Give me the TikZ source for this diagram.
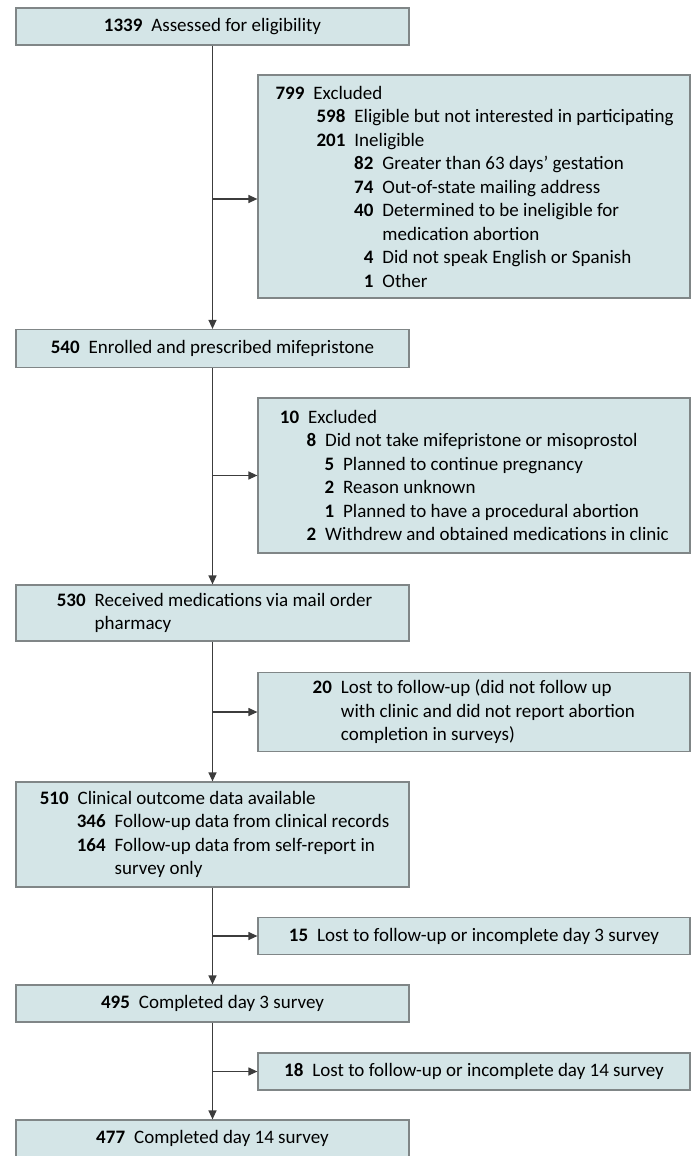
\documentclass[tikz,border=0pt]{standalone}
\usepackage{fontspec}
\setmainfont{Carlito}
\usetikzlibrary{arrows.meta}
\definecolor{boxfill}{RGB}{212,229,231}
\definecolor{boxline}{RGB}{128,134,135}
\definecolor{flowline}{RGB}{60,60,60}
\newcommand\cnt[2]{\makebox[#1][r]{\bfseries #2}\hspace{4.5pt}}
\newcommand\gap[1]{\hspace*{#1}\hspace*{4.5pt}}
\newcommand\lead[1]{\textbf{#1}\hspace{4.5pt}}

\begin{document}
\begin{tikzpicture}[x=0.5pt,y=-0.5pt,
	Box/.style={draw=boxline, fill=boxfill, line width=0.6pt, inner sep=0pt, align=left,
		font=\fontsize{9.5}{11.75}\selectfont},
	Main/.style={Box, minimum width=196.5pt},
	Side/.style={Box, minimum width=216pt},
	Flow/.style={draw=flowline, line width=0.6pt, -{Triangle[length=4.5pt,width=4pt]}}
		]
	\useasboundingbox (0,0) rectangle (692,1156);

	\node[Main, minimum height=18.5pt] (assessed) at (212.5,26.5) {\lead{1339}Assessed for eligibility};
	\node[Side, minimum height=111.5pt] (excl1) at (474,186.5) {%
		\cnt{15pt}{799}Excluded\\
		\cnt{35.5pt}{598}Eligible but not interested in participating\\
		\cnt{35.5pt}{201}Ineligible\\
		\cnt{49.5pt}{82}Greater than 63 days' gestation\\
		\cnt{49.5pt}{74}Out-of-state mailing address\\
		\cnt{49.5pt}{40}Determined to be ineligible for\\
		\gap{49.5pt}medication abortion\\
		\cnt{49.5pt}{4}Did not speak English or Spanish\\
		\cnt{49.5pt}{1}Other};
	\node[Main, minimum height=19pt] (enrolled) at (212.5,348.5) {\lead{540}Enrolled and prescribed mifepristone};
	\node[Side, minimum height=77.5pt] (excl2) at (474,475.5) {%
		\cnt{10pt}{10}Excluded\\
		\cnt{18.5pt}{8}Did not take mifepristone or misoprostol\\
		\cnt{27.5pt}{5}Planned to continue pregnancy\\
		\cnt{27.5pt}{2}Reason unknown\\
		\cnt{27.5pt}{1}Planned to have a procedural abortion\\
		\cnt{18.5pt}{2}Withdrew and obtained medications in clinic};
	\node[Main, minimum height=28pt] (mailed) at (212.5,613) {%
		\cnt{16.5pt}{530}Received medications via mail order\\
		\gap{16.5pt}pharmacy};
	\node[Side, minimum height=39.5pt] (lost1) at (474,712) {%
		\cnt{9.5pt}{20}Lost to follow-up (did not follow up\\
		\gap{9.5pt}with clinic and did not report abortion\\
		\gap{9.5pt}completion in surveys)};
	\node[Main, minimum height=52.5pt] (outcome) at (212.5,834.5) {%
		\cnt{16.5pt}{510}Clinical outcome data available\\
		\cnt{35pt}{346}Follow-up data from clinical records\\
		\cnt{35pt}{164}Follow-up data from self-report in\\
		\gap{35pt}survey only};
	\node[Side, minimum height=18.5pt] (lost2) at (474,936) {\lead{15}Lost to follow-up or incomplete day 3 survey};
	\node[Main, minimum height=18.5pt] (day3) at (212.5,1003.5) {\lead{495}Completed day 3 survey};
	\node[Side, minimum height=18.5pt] (lost3) at (474,1071.5) {\lead{18}Lost to follow-up or incomplete day 14 survey};
	\node[Main, minimum height=18.5pt] (day14) at (212.5,1138.5) {\lead{477}Completed day 14 survey};

	\coordinate (split1) at (212.5,199);
	\draw[Flow] (assessed) -- (enrolled);
	\draw[Flow] (split1) -- (split1 -| excl1.west);
	\draw[Flow] (enrolled) -- (mailed);
	\draw[Flow] (enrolled.south |- excl2.west) -- (excl2.west);
	\draw[Flow] (mailed) -- (outcome);
	\draw[Flow] (mailed.south |- lost1.west) -- (lost1.west);
	\draw[Flow] (outcome) -- (day3);
	\draw[Flow] (outcome.south |- lost2.west) -- (lost2.west);
	\draw[Flow] (day3) -- (day14);
	\draw[Flow] (day3.south |- lost3.west) -- (lost3.west);
\end{tikzpicture}
\end{document}
